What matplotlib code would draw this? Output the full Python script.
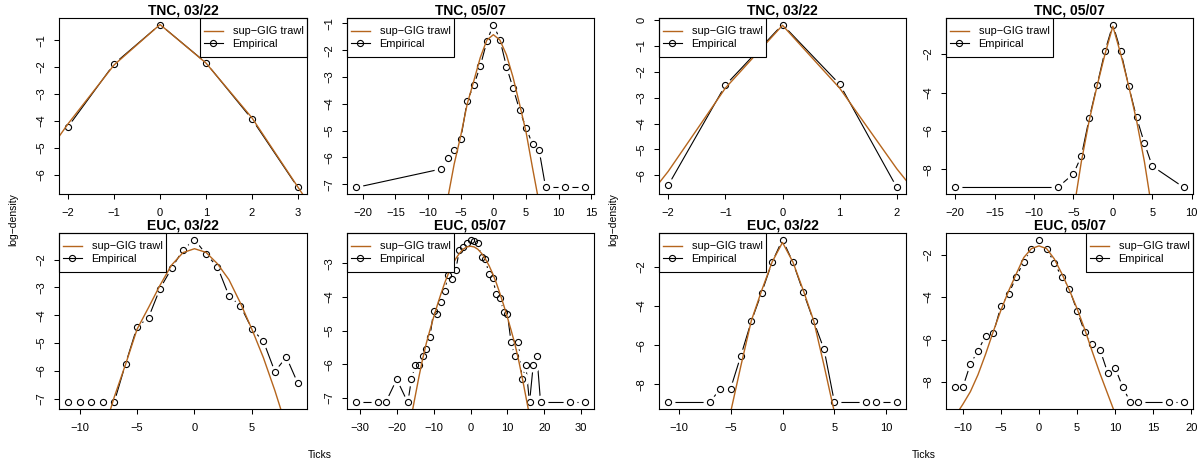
import numpy as np
import matplotlib
matplotlib.use("Agg")
import matplotlib.pyplot as plt
from matplotlib.patches import Rectangle

plt.rcParams['font.family'] = ['Liberation Sans', 'DejaVu Sans']
plt.rcParams['axes.unicode_minus'] = True

BROWN = '#B5651D'

# ---------------- data ----------------
titles = ["TNC, 03/22", "TNC, 05/07", "EUC, 03/22", "EUC, 05/07",
          "TNC, 03/22", "TNC, 05/07", "EUC, 03/22", "EUC, 05/07"]

# Panel 1 (left block, TNC 03/22)
p1_ex = [-2, -1, 0, 1, 2, 3]
p1_ey = [-4.21, -1.88, -0.42, -1.84, -3.93, -6.47]
p1_mx = [-3, -2, -1, 0, 1, 2, 3, 4]
p1_my = [-6.5, -4.1, -1.92, -0.42, -1.85, -3.88, -6.45, -9.0]

# Panel 2 (left block, TNC 05/07)
p2_ex = [-21, -8, -7, -6, -5, -4, -3, -2, -1, 0, 1, 2, 3, 4, 5, 6, 7, 8, 11, 14]
p2_ey = [-7.12, -6.43, -6.02, -5.74, -5.32, -3.89, -3.31, -2.59, -1.67, -1.04,
         -1.60, -2.61, -3.40, -4.22, -4.90, -5.51, -5.73, -7.12, -7.12, -7.12]
p2_mx = [-8, -7, -6, -5, -4, -3, -2, -1, 0, 1, 2, 3, 4, 5, 6, 7, 8]
p2_my = [-9.0, -7.55, -6.25, -5.2, -4.0, -3.15, -2.27, -1.62, -1.42, -1.62,
         -2.17, -3.0, -4.0, -5.05, -6.4, -7.7, -9.1]

# Panel 3 (left block, EUC 03/22)
p3_ex = [-11, -10, -9, -8, -7, -6, -5, -4, -3, -2, -1, 0, 1, 2, 3, 4, 5, 6, 7, 8, 9]
p3_ey = [-7.13, -7.13, -7.13, -7.13, -7.13, -5.74, -4.42, -4.08, -3.04, -2.32, -1.65,
         -1.28, -1.80, -2.26, -3.30, -3.66, -4.49, -4.93, -6.02, -5.50, -6.44]
p3_mx = [-9, -8, -7, -6, -5, -4, -3, -2, -1, 0, 1, 2, 3, 4, 5, 6, 7, 8, 9]
p3_my = [-9.8, -8.3, -6.95, -5.76, -4.5, -3.72, -2.92, -2.2, -1.75, -1.61,
         -1.74, -2.15, -2.72, -3.56, -4.5, -5.52, -6.7, -8.0, -9.4]

# Panel 4 (left block, EUC 05/07)
p4_ex = [-31, -25, -23, -20, -17, -16, -15, -14, -13, -12, -11, -10, -9, -8, -7, -6, -5,
         -4, -3, -2, -1, 0, 1, 2, 3, 4, 5, 6, 7, 8, 9, 10, 11, 12, 13, 14, 15, 16, 17,
         18, 19, 27, 31]
p4_ey = [-7.13, -7.13, -7.13, -6.44, -7.13, -6.44, -6.03, -6.03, -5.75, -5.53, -5.19,
         -4.42, -4.50, -4.14, -3.83, -3.33, -3.45, -3.20, -2.59, -2.50, -2.40, -2.29,
         -2.33, -2.39, -2.80, -2.88, -3.30, -3.43, -3.91, -4.04, -4.43, -4.50, -5.34,
         -5.75, -5.34, -6.44, -6.03, -7.13, -6.03, -5.75, -7.13, -7.13, -7.13]
p4_mx = [-17, -16, -15, -14, -13, -12, -11, -10, -9, -8, -7, -6, -5, -4, -3, -2, -1, 0,
         1, 2, 3, 4, 5, 6, 7, 8, 9, 10, 11, 12, 13, 14, 15, 16, 17]
p4_my = [-8.1, -7.52, -6.95, -6.38, -5.85, -5.38, -4.98, -4.60, -4.24, -3.90, -3.58,
         -3.30, -3.06, -2.86, -2.70, -2.58, -2.51, -2.49, -2.51, -2.58, -2.70, -2.86,
         -3.06, -3.30, -3.58, -3.90, -4.24, -4.60, -4.98, -5.38, -5.85, -6.38, -6.95,
         -7.52, -8.1]

# Panel 5 (right block, TNC 03/22)
p5_ex = [-2, -1, 0, 1, 2]
p5_ey = [-6.39, -2.52, -0.17, -2.48, -6.47]
p5_mx = [-3, -2, -1, 0, 1, 2, 3]
p5_my = [-8.65, -5.85, -2.63, -0.2, -2.63, -5.75, -8.5]

# Panel 6 (right block, TNC 05/07)
p6_ex = [-20, -7, -5, -4, -3, -2, -1, 0, 1, 2, 3, 4, 5, 9]
p6_ey = [-8.94, -8.94, -8.23, -7.31, -5.34, -3.61, -1.84, -0.46, -1.84, -3.66,
         -5.29, -6.64, -7.83, -8.94]
p6_mx = [-6, -5, -4, -3, -2, -1, 0, 1, 2, 3, 4, 5, 6]
p6_my = [-12.5, -10.2, -7.6, -5.45, -3.65, -2.0, -0.55, -2.0, -3.65, -5.45, -7.6,
         -10.2, -12.5]

# Panel 7 (right block, EUC 03/22)
p7_ex = [-11, -7, -6, -5, -4, -3, -2, -1, 0, 1, 2, 3, 4, 5, 8, 9, 11]
p7_ey = [-8.93, -8.93, -8.23, -8.23, -6.53, -4.78, -3.31, -1.76, -0.60, -1.76,
         -3.29, -4.78, -6.22, -8.93, -8.93, -8.93, -8.93]
p7_mx = [-6, -5, -4, -3, -2, -1, 0, 1, 2, 3, 4, 5, 6]
p7_my = [-12.0, -9.45, -7.05, -4.75, -3.2, -1.75, -0.75, -1.75, -3.2, -4.75, -7.05,
         -9.45, -12.0]

# Panel 8 (right block, EUC 05/07)
p8_ex = [-11, -10, -9, -8, -7, -6, -5, -4, -3, -2, -1, 0, 1, 2, 3, 4, 5, 6, 7, 8, 9,
         10, 11, 12, 13, 17, 19]
p8_ey = [-8.25, -8.25, -7.15, -6.53, -5.81, -5.71, -4.44, -3.86, -3.06, -2.33, -1.75,
         -1.29, -1.72, -2.38, -3.06, -3.64, -4.66, -5.65, -6.23, -6.47, -7.55, -7.35,
         -8.25, -8.96, -8.96, -8.96, -8.96]
p8_mx = [-12, -11, -10, -9, -8, -7, -6, -5, -4, -3, -2, -1, 0, 1, 2, 3, 4, 5, 6, 7, 8,
         9, 10, 11]
p8_my = [-10.2, -9.6, -9.05, -8.45, -7.65, -6.68, -5.62, -4.62, -3.72, -2.92, -2.14,
         -1.72, -1.59, -1.72, -2.2, -2.9, -3.68, -4.55, -5.52, -6.58, -7.6, -8.55,
         -9.5, -10.4]

xticks = [[-2, -1, 0, 1, 2, 3], [-20, -15, -10, -5, 0, 5, 10, 15],
          [-10, -5, 0, 5], [-30, -20, -10, 0, 10, 20, 30],
          [-2, -1, 0, 1, 2], [-20, -15, -10, -5, 0, 5, 10],
          [-10, -5, 0, 5, 10], [-10, -5, 0, 5, 10, 15, 20]]
yticks = [[-6, -5, -4, -3, -2, -1], [-7, -6, -5, -4, -3, -2, -1],
          [-7, -6, -5, -4, -3, -2], [-7, -6, -5, -4, -3],
          [-6, -5, -4, -3, -2, -1, 0], [-8, -6, -4, -2],
          [-8, -6, -4, -2], [-8, -6, -4, -2]]
legend_side = ['right', 'left', 'left', 'left', 'left', 'left', 'left', 'right']

series = [(p1_ex, p1_ey, p1_mx, p1_my), (p2_ex, p2_ey, p2_mx, p2_my),
          (p3_ex, p3_ey, p3_mx, p3_my), (p4_ex, p4_ey, p4_mx, p4_my),
          (p5_ex, p5_ey, p5_mx, p5_my), (p6_ex, p6_ey, p6_mx, p6_my),
          (p7_ex, p7_ey, p7_mx, p7_my), (p8_ex, p8_ey, p8_mx, p8_my)]

# ---------------- layout (pixels) ----------------
W, H = 1203, 466
boxes = [(59, 307, 18, 194), (347, 594, 18, 194), (59, 307, 233, 409), (347, 594, 233, 409),
         (659, 906, 18, 194), (946, 1193, 18, 194), (659, 906, 233, 409), (946, 1193, 233, 409)]
LEG_W, LEG_H = 107, 39

fig = plt.figure(figsize=(W / 100, H / 100), dpi=100)

for i, (x0, x1, y0, y1) in enumerate(boxes):
    ax = fig.add_axes([x0 / W, 1 - y1 / H, (x1 - x0) / W, (y1 - y0) / H])
    ex, ey, mx, my = series[i]
    ax.plot(ex, ey, color='black', lw=0.8, zorder=2)
    ax.plot(ex, ey, ls='none', marker='o', ms=9.0, mfc='white', mec='white', zorder=3)
    ax.plot(ex, ey, ls='none', marker='o', ms=4.4, mfc='none', mec='black', mew=0.8,
            zorder=4)
    ax.plot(mx, my, color=BROWN, lw=1.0, zorder=5)

    xr = max(ex) - min(ex)
    yr = max(ey) - min(ey)
    ax.set_xlim(min(ex) - 0.04 * xr, max(ex) + 0.04 * xr)
    ax.set_ylim(min(ey) - 0.04 * yr, max(ey) + 0.04 * yr)
    ax.set_xticks(xticks[i])
    ax.set_yticks(yticks[i])
    ax.tick_params(axis='both', direction='out', length=3.6, width=0.75,
                   labelsize=8, colors='black')
    ax.tick_params(axis='x', pad=6.5)
    ax.tick_params(axis='y', pad=5.5, labelrotation=90)
    for lbl in ax.get_yticklabels():
        lbl.set_va('center')
    for s in ax.spines.values():
        s.set_linewidth(0.8)
        s.set_zorder(12)
    ax.set_title(titles[i], fontsize=10, fontweight='bold', pad=1.5)

    # legend box
    aw, ah = x1 - x0, y1 - y0
    lw_, lh_ = LEG_W / aw, LEG_H / ah
    lx = 0.0 if legend_side[i] == 'left' else 1.0 - lw_
    ly = 1.0 - lh_
    rect = Rectangle((lx, ly), lw_, lh_, transform=ax.transAxes, fc='white',
                     ec='black', lw=0.8, zorder=9, clip_on=False)
    ax.add_patch(rect)
    h1, = ax.plot([], [], color=BROWN, lw=1.0)
    h2, = ax.plot([], [], color='black', lw=0.8, marker='o', ms=4.4, mfc='none',
                  mec='black', mew=0.8)
    leg = ax.legend([h1, h2], ['sup\u2212GIG trawl', 'Empirical'], loc='center',
                    bbox_to_anchor=(lx, ly, lw_, lh_), bbox_transform=ax.transAxes,
                    fontsize=7.9, frameon=False, borderaxespad=0, borderpad=0,
                    labelspacing=0.2, handlelength=1.8, handletextpad=0.85,
                    numpoints=1)
    leg.set_zorder(10)

for off in (0, 600):
    fig.text((13 + off) / W, 1 - 220 / H, 'log\u2212density', rotation=90,
             ha='center', va='center', fontsize=7.5)
fig.text(320 / W, 1 - 455 / H, 'Ticks', ha='center', va='center', fontsize=7.5)
fig.text(924 / W, 1 - 455 / H, 'Ticks', ha='center', va='center', fontsize=7.5)

fig.savefig('out.png', dpi=100)
